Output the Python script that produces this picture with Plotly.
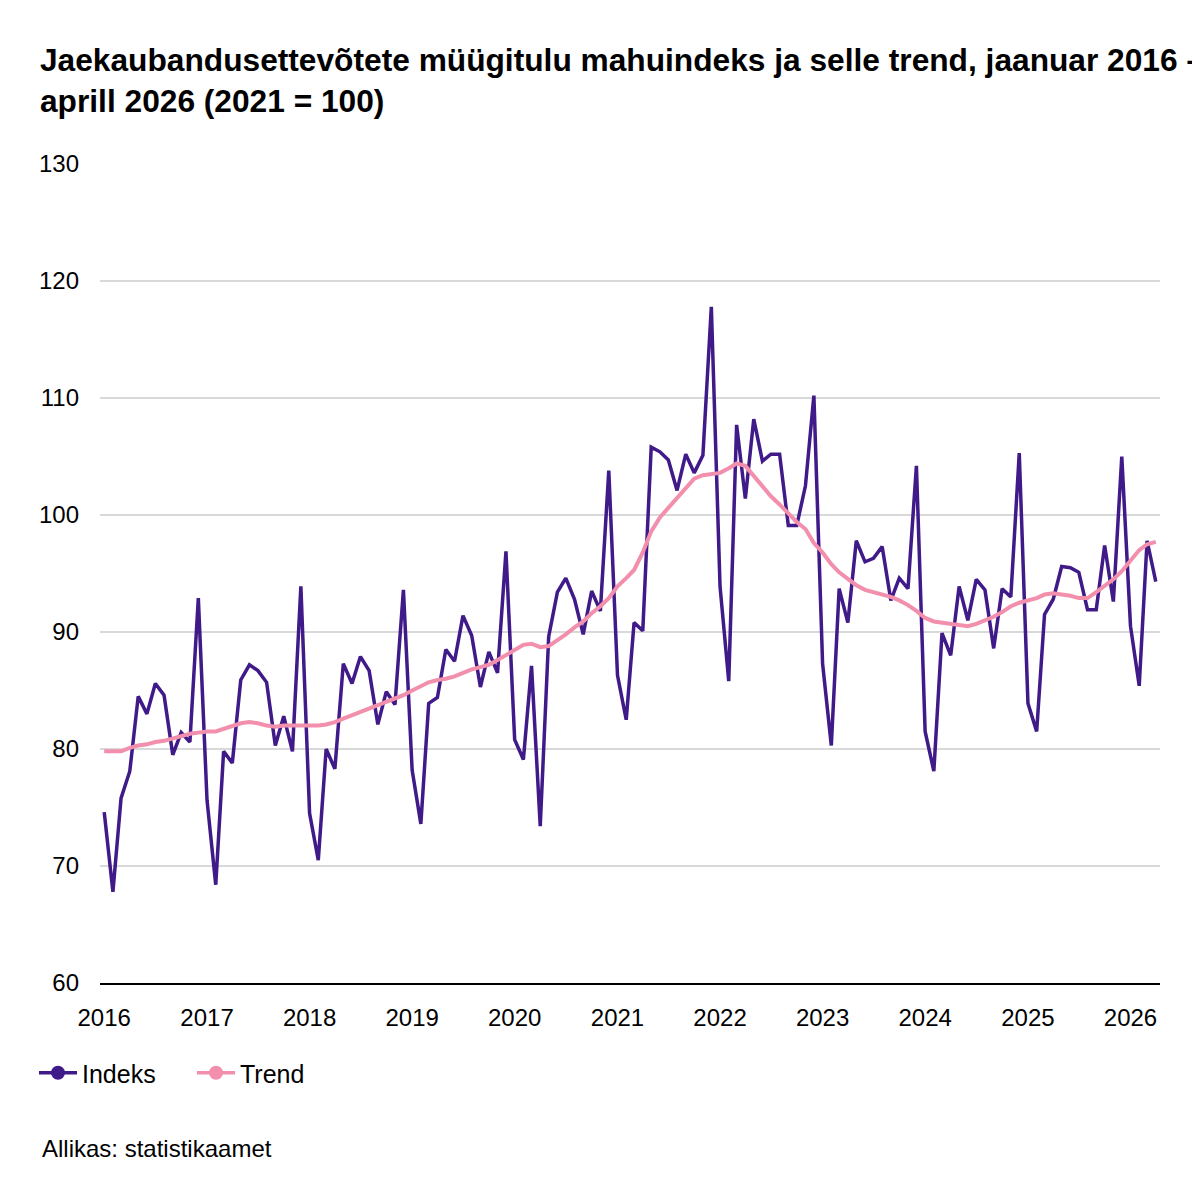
import pandas as pd
import plotly.graph_objects as go

# Monthly volume index of retail sales revenue (2021 = 100), Jan 2016 - Apr 2026
indeks = [
    74.6, 67.8, 75.8, 78.1, 84.5, 83.0, 85.6, 84.6, 79.5, 81.4, 80.6, 92.9,   # 2016
    75.6, 68.4, 79.8, 78.8, 85.9, 87.2, 86.7, 85.7, 80.3, 82.8, 79.8, 93.9,   # 2017
    74.5, 70.5, 80.0, 78.3, 87.3, 85.6, 87.9, 86.7, 82.1, 84.9, 83.8, 93.6,   # 2018
    78.2, 73.6, 83.9, 84.4, 88.5, 87.5, 91.4, 89.7, 85.3, 88.3, 86.5, 96.9,   # 2019
    80.8, 79.1, 87.1, 73.4, 89.6, 93.4, 94.6, 92.8, 89.8, 93.5, 91.8, 103.8,  # 2020
    86.3, 82.5, 90.8, 90.1, 105.8, 105.4, 104.7, 102.1, 105.2, 103.6, 105.1, 117.8,  # 2021
    93.9, 85.8, 107.7, 101.4, 108.2, 104.6, 105.2, 105.2, 99.1, 99.1, 102.5, 110.2,  # 2022
    87.3, 80.3, 93.7, 90.8, 97.8, 96.0, 96.3, 97.3, 92.7, 94.6, 93.7, 104.2,  # 2023
    81.5, 78.1, 89.9, 88.0, 93.9, 91.0, 94.5, 93.6, 88.6, 93.7, 93.0, 105.3,  # 2024
    83.9, 81.5, 91.5, 92.8, 95.6, 95.5, 95.1, 91.9, 91.9, 97.4, 92.6, 105.0,  # 2025
    90.5, 85.4, 97.8, 94.3,                                                   # 2026
]

trend = [
    79.8, 79.8, 79.8, 80.1, 80.3, 80.4, 80.6, 80.7, 80.9, 81.1, 81.3, 81.4,
    81.5, 81.5, 81.7, 81.9, 82.2, 82.3, 82.2, 82.0, 81.9, 82.0, 82.0, 82.0,
    82.0, 82.0, 82.1, 82.3, 82.6, 82.9, 83.1, 83.4, 83.7, 84.0, 84.3, 84.6,
    85.0, 85.4, 85.7, 85.9, 86.0, 86.2, 86.5, 86.8, 87.0, 87.2, 87.6, 88.0,
    88.5, 88.9, 89.0, 88.7, 88.8, 89.3, 89.8, 90.4, 90.9, 91.6, 92.2, 92.9,
    93.9, 94.6, 95.3, 96.8, 98.6, 99.8, 100.6, 101.4, 102.3, 103.1, 103.4, 103.5,
    103.6, 104.0, 104.4, 104.2, 103.3, 102.4, 101.6, 100.9, 100.1, 99.4, 98.8, 97.6,
    96.8, 95.8, 95.1, 94.5, 94.0, 93.6, 93.4, 93.2, 93.0, 92.7, 92.3, 91.8,
    91.2, 90.9, 90.8, 90.7, 90.6, 90.5, 90.7, 91.0, 91.3, 91.7, 92.2, 92.5,
    92.7, 92.9, 93.2, 93.3, 93.2, 93.1, 92.9, 92.9, 93.4, 93.9, 94.5, 95.2,
    96.1, 97.0, 97.5, 97.7,
]

months = pd.date_range("2016-01-01", periods=len(indeks), freq="MS")

series_names = ["Indeks", "Trend"]
colors = ["#3f1a88", "#f28fac"]
widths = [3.5, 4]

font = "Liberation Sans, Arial, sans-serif"

# page puts the figure 8px in from the corner, so everything is laid out 8px up/left
fig = go.Figure()

# the real lines (no legend), then dummy traces for legend entries with dots
for name, vals, col, w in zip(series_names, [indeks, trend], colors, widths):
    fig.add_trace(go.Scatter(x=months, y=vals, mode="lines", name=name,
                             line=dict(color=col, width=w), showlegend=False))
for name, col in zip(series_names, colors):
    fig.add_trace(go.Scatter(x=[None], y=[None], mode="lines+markers", name=name,
                             line=dict(color=col, width=3.5),
                             marker=dict(color=col, size=14)))

fig.update_layout(
    width=1200, height=1200,
    paper_bgcolor="white", plot_bgcolor="white",
    margin=dict(l=92, r=48, t=156, b=225),
    font=dict(family=font, size=24, color="#000000"),
    title=dict(
        text="<b>Jaekaubandusettevõtete müügitulu mahuindeks ja selle trend, jaanuar 2016 –<br>"
             "aprill 2026 (2021 = 100)</b>",
        font=dict(family=font, size=31.7, color="#000000"),
        x=32 / 1200, xanchor="left", xref="container",
        y=1 - 63 / 1200, yanchor="top", yref="container",
    ),
    legend=dict(
        orientation="h", xref="container", yref="container",
        x=26 / 1200, xanchor="left", y=1 - 1065 / 1200, yanchor="middle",
        font=dict(size=25), itemwidth=38, traceorder="normal",
        entrywidth=105, entrywidthmode="pixels",
        bgcolor="rgba(0,0,0,0)",
    ),
    xaxis=dict(
        type="date",
        range=["2015-12-17", "2026-04-16"],
        tick0="2016-01-01", dtick="M12", tickformat="%Y",
        showgrid=False, zeroline=False,
        showline=True, linecolor="#000000", linewidth=2,
        ticks="", ticklabelstandoff=12,
        tickfont=dict(size=24),
    ),
    yaxis=dict(
        range=[60, 130], dtick=10,
        showgrid=True, gridcolor="#d9d9d9", gridwidth=1.5,
        zeroline=False, showline=False, ticks="",
        ticklabelstandoff=20,
        tickfont=dict(size=24),
    ),
    annotations=[dict(
        text="Allikas: statistikaamet", showarrow=False,
        xref="paper", yref="paper",
        x=(32 - 92) / 1060, xanchor="left",
        y=(975 - 1140) / 819, yanchor="middle",
        font=dict(size=24),
    )],
)

fig.write_html("out.html")
